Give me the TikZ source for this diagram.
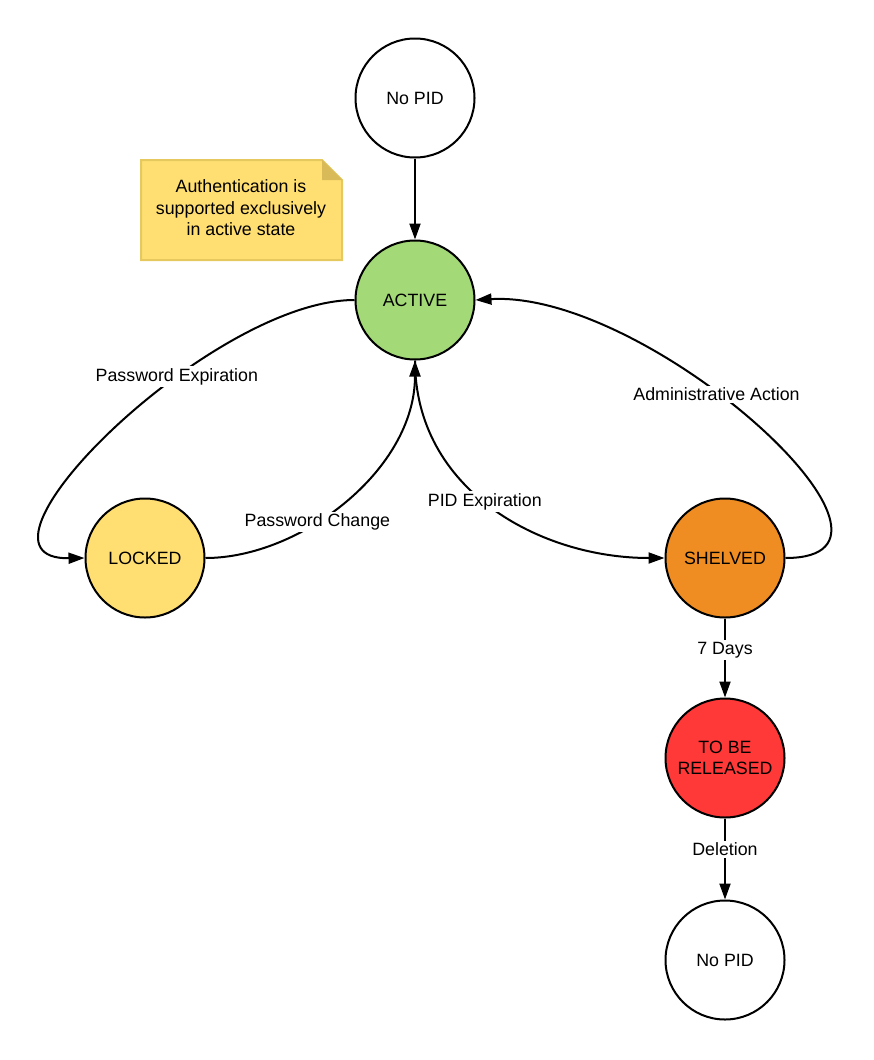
\documentclass[tikz,border=0pt]{standalone}
\usepackage{fontspec}
\setmainfont{Liberation Sans}
\usetikzlibrary{arrows.meta}
\definecolor{cactive}{HTML}{A3D977}
\definecolor{clocked}{HTML}{FFDF71}
\definecolor{cshelved}{HTML}{EF8D22}
\definecolor{crel}{HTML}{FF3838}
\definecolor{cnote}{HTML}{FFDF71}
\definecolor{cnoteb}{HTML}{E5C85E}
\definecolor{cfold}{HTML}{D9BA58}
\begin{document}
\begin{tikzpicture}[x=1pt,y=-1pt,
  font=\fontsize{17.8}{21.5}\selectfont,
  state/.style={circle,draw=black,line width=2pt,minimum size=119pt,inner sep=0pt,align=center},
  conn/.style={line width=2pt,-{Triangle[length=16pt,width=11pt]}},
  lbl/.style={fill=white,inner sep=2pt}]
\useasboundingbox (0,0) rectangle (873,1060);
% note
\draw[fill=cnote,draw=cnoteb,line width=2pt] (141,160) -- (322,160) -- (342,180) -- (342,260) -- (141,260) -- cycle;
\fill[cfold] (322,160) -- (342,180) -- (322,180) -- cycle;
\node[align=center] (note) at (241,208) {Authentication is\\supported exclusively\\in active state};
% states
\node[state,fill=white] (top) at (415,98) {No PID};
\node[state,fill=cactive] (active) at (415,300) {ACTIVE};
\node[state,fill=clocked] (locked) at (145,558) {LOCKED};
\node[state,fill=cshelved] (shelved) at (725,558) {SHELVED};
\node[state,fill=crel] (rel) at (725,758) {TO BE\\RELEASED};
\node[state,fill=white] (bottom) at (725,960) {No PID};
% connectors
\draw[conn] (top) -- (active);
\draw[conn] (active.west) .. controls (210,300) and (-52,560) .. (locked.west)
  node[lbl,pos=0.36] {Password Expiration};
\draw[conn] (locked.east) .. controls (300,558) and (415,470) .. (active.south)
  node[lbl,pos=0.39] {Password Change};
\draw[conn] (active.south) .. controls (415,490) and (540,558) .. (shelved.west)
  node[lbl,pos=0.47] {PID Expiration};
\draw[conn] (shelved.east) .. controls (945,558) and (650,290) .. (active.east)
  node[lbl,pos=0.58] {Administrative Action};
\draw[conn] (shelved) -- (rel) node[lbl,pos=0.4] {7 Days};
\draw[conn] (rel) -- (bottom) node[lbl,pos=0.38] {Deletion};
\end{tikzpicture}
\end{document}
